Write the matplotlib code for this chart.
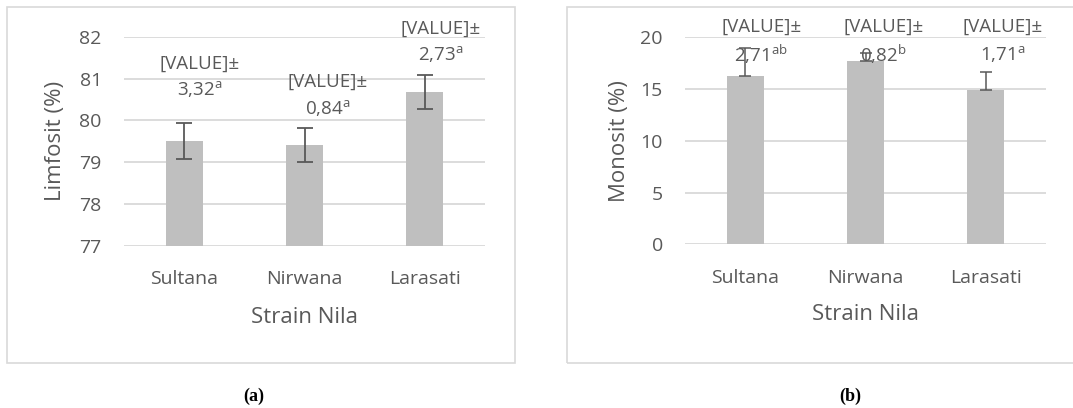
import matplotlib
matplotlib.use("Agg")
import matplotlib.pyplot as plt
from matplotlib.patches import Rectangle

# ---- data ----
strains = ["Sultana", "Nirwana", "Larasati"]

limfosit_mean = [79.51, 79.41, 80.68]
limfosit_err = [0.42, 0.41, 0.40]
limfosit_sd_text = ["3,32", "0,84", "2,73"]
limfosit_letters = ["a", "a", "a"]

monosit_mean = [16.23, 17.68, 14.90]
monosit_sd = [2.71, 0.82, 1.71]
monosit_letters = ["ab", "b", "a"]

limfosit_ticks = [77, 78, 79, 80, 81, 82]
monosit_ticks = [0, 5, 10, 15, 20]

# ---- style ----
FONT = "Open Sans"
TEXT = "#595959"
GRID = "#d9d9d9"
BAR = "#bfbfbf"
ERR = "#595959"

plt.rcParams["font.family"] = [FONT, "DejaVu Sans"]
plt.rcParams["mathtext.fontset"] = "custom"
plt.rcParams["mathtext.rm"] = FONT
plt.rcParams["mathtext.it"] = FONT + ":italic"
plt.rcParams["mathtext.bf"] = FONT + ":bold"

W, H = 1073, 408
fig = plt.figure(figsize=(W / 100, H / 100), dpi=100)


def px_axes(left, top, right, bottom):
    return fig.add_axes([left / W, 1 - bottom / H, (right - left) / W, (bottom - top) / H])


def frame(left, top, right, bottom):
    fig.patches.append(Rectangle((left / W, 1 - bottom / H), (right - left) / W,
                                 (bottom - top) / H, transform=fig.transFigure,
                                 fill=False, edgecolor=GRID, linewidth=1.2))


def style_axes(ax, ticks, ylabel, ylabel_x):
    ax.set_ylim(ticks[0], ticks[-1])
    ax.set_yticks(ticks)
    ax.set_xlim(-0.5, len(strains) - 0.5)
    ax.set_xticks(range(len(strains)))
    ax.set_xticklabels(strains)
    ax.grid(axis="y", color=GRID, linewidth=1.3, zorder=0)
    ax.set_axisbelow(True)
    for s in ax.spines.values():
        s.set_visible(False)
    ax.tick_params(axis="both", length=0, labelsize=14, colors=TEXT)
    ax.tick_params(axis="y", pad=16)
    ax.tick_params(axis="x", pad=17.5)
    ax.set_xlabel("Strain Nila", fontsize=16, color=TEXT)
    ax.xaxis.set_label_coords(0.5, -0.29)
    ax.set_ylabel(ylabel, fontsize=16, color=TEXT, va="center")
    ax.yaxis.set_label_coords(ylabel_x, 0.5)


def value_label(ax, x, y_mid, sd_text, letters, gap):
    ax.text(x, y_mid + gap / 2, "[VALUE]\u00b1", ha="center", va="center",
            fontsize=13.5, color=TEXT, clip_on=False, zorder=5)
    ax.text(x, y_mid - gap / 2, sd_text + r"$^{\mathrm{" + letters + "}}$",
            ha="center", va="center", fontsize=13.5, color=TEXT,
            clip_on=False, zorder=5)


# ---- panel (a): Limfosit ----
frame(7, 7, 515, 363)
ax1 = px_axes(124, 36.7, 485, 246)
x = list(range(len(strains)))
ax1.bar(x, limfosit_mean, width=0.31, color=BAR, zorder=2)
ax1.errorbar(x, limfosit_mean, yerr=limfosit_err, fmt="none", ecolor=ERR,
             elinewidth=1.3, capsize=6, capthick=1.3, zorder=3)
style_axes(ax1, limfosit_ticks, "Limfosit (%)", -0.19)

label_dx_a = [0.13, 0.19, 0.13]
label_y_a = [81.05, 80.61, 81.89]
for i in x:
    value_label(ax1, i + label_dx_a[i], label_y_a[i], limfosit_sd_text[i],
                limfosit_letters[i], 0.61)

# ---- panel (b): Monosit ----
frame(567, 7, 1090, 363)
ax2 = px_axes(685, 37.3, 1046, 244.3)
ax2.bar(x, monosit_mean, width=0.31, color=BAR, zorder=2)
ax2.errorbar(x, monosit_mean, yerr=[[0] * len(x), monosit_sd], fmt="none",
             ecolor=ERR, elinewidth=1.1, capsize=4.2, capthick=1.1, zorder=3)
style_axes(ax2, monosit_ticks, "Monosit (%)", -0.182)

label_dx_b = [0.135, 0.15, 0.137]
for i in x:
    sd_text = f"{monosit_sd[i]:.2f}".replace(".", ",")
    value_label(ax2, i + label_dx_b[i], 19.7, sd_text, monosit_letters[i], 2.64)

# ---- captions ----
fig.text(254 / W, 1 - 396 / H, "(a)", ha="center", va="center",
         fontfamily="Liberation Serif", fontweight="bold", fontsize=13, color="black")
fig.text(850 / W, 1 - 396 / H, "(b)", ha="center", va="center",
         fontfamily="Liberation Serif", fontweight="bold", fontsize=13, color="black")

fig.savefig("out.png", dpi=100, facecolor="white")
